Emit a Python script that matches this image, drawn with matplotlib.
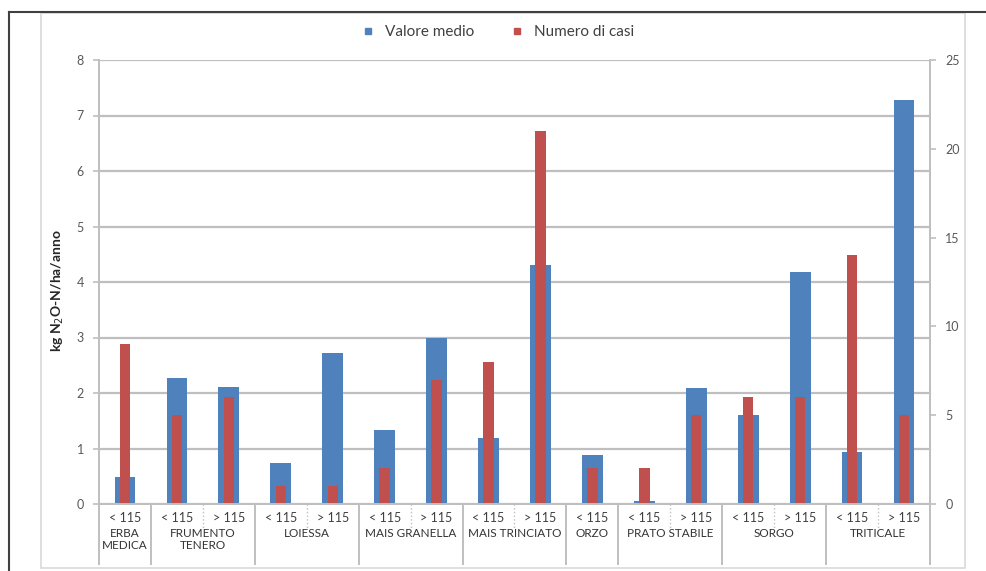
import numpy as np
import matplotlib
matplotlib.use("Agg")
import matplotlib.pyplot as plt
from matplotlib.lines import Line2D
from matplotlib.patches import Rectangle
from matplotlib.transforms import blended_transform_factory

plt.rcParams['font.family'] = ['Lato', 'DejaVu Sans']

# data
soglia = ['< 115', '< 115', '> 115', '< 115', '> 115', '< 115', '> 115', '< 115', '> 115',
          '< 115', '< 115', '> 115', '< 115', '> 115', '< 115', '> 115']
colture = ['ERBA\nMEDICA', 'FRUMENTO\nTENERO', 'LOIESSA', 'MAIS GRANELLA', 'MAIS TRINCIATO',
           'ORZO', 'PRATO STABILE', 'SORGO', 'TRITICALE']
n_per_coltura = [1, 2, 2, 2, 2, 1, 2, 2, 2]
valore_medio = [0.49, 2.27, 2.11, 0.74, 2.72, 1.33, 2.99, 1.19, 4.30,
                0.88, 0.06, 2.09, 1.60, 4.18, 0.94, 7.28]
numero_casi = [9, 5, 6, 1, 1, 2, 7, 8, 21, 2, 2, 5, 6, 6, 14, 5]

blue = '#4F81BD'
red = '#C0504D'
grey_txt = '#595959'
grid_c = '#BFBFBF'

fig = plt.figure(figsize=(9.87, 5.71), dpi=100)
W, H = 987, 571
ax = fig.add_axes([99 / W, 1 - 504 / H, (930 - 99) / W, (504 - 60) / H])
ax2 = ax.twinx()

x = np.arange(len(soglia))
ax.bar(x, valore_medio, width=0.4, color=blue, zorder=2)
ax2.bar(x, numero_casi, width=0.2, color=red, zorder=2)

ax.set_xlim(-0.5, len(soglia) - 0.5)
ax.set_ylim(0, 8)
ax2.set_ylim(0, 25)
ax.set_yticks(range(0, 9))
ax2.set_yticks(range(0, 26, 5))
ax.yaxis.grid(True, color=grid_c, linewidth=1.6)
ax.set_axisbelow(True)

for a in (ax, ax2):
    for s in a.spines.values():
        s.set_color(grid_c)
        s.set_linewidth(1.4)
    a.tick_params(axis='y', colors=grid_c, labelcolor=grey_txt, labelsize=9,
                  length=4, width=1.2, pad=7)
ax.spines['top'].set_visible(False)
ax2.spines['top'].set_visible(False)

ax.set_xticks(x)
ax.set_xticklabels(soglia, fontsize=9, color='#404040')
ax.tick_params(axis='x', length=0, pad=6)

ax.set_ylabel('kg N$_2$O-N/ha/anno', fontsize=10, fontweight='bold', color='#262626')
ax.yaxis.set_label_coords(-(99 - 66) / 831, 0.48)

# multi-level category axis
tr = blended_transform_factory(ax.transData, ax.transAxes)
row1 = -(529 - 504) / 444
bottom = -(564 - 504) / 444
start = 0
bounds = [-0.5]
for name, n in zip(colture, n_per_coltura):
    centre = start + (n - 1) / 2
    ax.text(centre, -(528 - 504) / 444, name, transform=tr, ha='center', va='top',
            fontsize=8.5, color='#333333', linespacing=1.1)
    for k in range(1, n):
        ax.add_line(Line2D([start + k - 0.5] * 2, [0, row1], transform=tr,
                           color=grid_c, linewidth=1, linestyle=':', clip_on=False))
    start += n
    bounds.append(start - 0.5)
for b in bounds:
    ax.add_line(Line2D([b, b], [0, bottom], transform=tr, color=grid_c,
                       linewidth=1.4, clip_on=False))

# legend
handles = [Line2D([], [], marker='s', linestyle='', color=blue, markersize=4),
           Line2D([], [], marker='s', linestyle='', color=red, markersize=4)]
fig.legend(handles, ['Valore medio', 'Numero di casi'], loc='center',
           bbox_to_anchor=(0.5, 1 - 32 / H), ncol=2, frameon=False, fontsize=11,
           handletextpad=0.1, columnspacing=1.8, labelcolor='#404040')

# chart frames
fig.add_artist(Rectangle((41 / W, 1 - 568 / H), (965 - 41) / W, (568 - 13) / H,
                         transform=fig.transFigure, fill=False, edgecolor='#D9D9D9', linewidth=1.2))
fig.add_artist(Line2D([9 / W, 1], [1 - 12 / H] * 2, transform=fig.transFigure,
                      color='#404040', linewidth=1.5))
fig.add_artist(Line2D([9 / W] * 2, [0, 1 - 12 / H], transform=fig.transFigure,
                      color='#404040', linewidth=1.5))

fig.savefig('out.png', dpi=100)
